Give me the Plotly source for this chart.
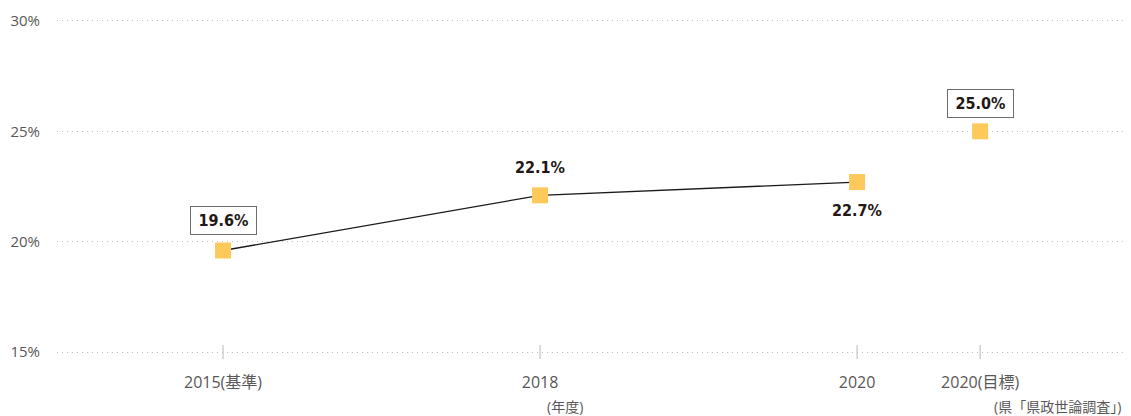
import plotly.graph_objects as go

# ---- data ----
categories = ["2015(基準)", "2018", "2020", "2020(目標)"]
values = [19.6, 22.1, 22.7, 25.0]
label_texts = ["19.6%", "22.1%", "22.7%", "25.0%"]
y_ticks = [15, 20, 25, 30]
y_tick_labels = ["15%", "20%", "25%", "30%"]

# ---- layout positions (category -> x coordinate) ----
cat_pos = {"2015(基準)": 0, "2018": 1, "2020": 2, "2020(目標)": 2.388}
xs = [cat_pos[c] for c in categories]

marker_color = "#FDC95B"
text_color = "#231815"
axis_text = "#595757"
grid_color = "#BFBFBF"

fig = go.Figure()

# actual results line (first three points)
fig.add_trace(go.Scatter(
    x=xs[:3], y=values[:3], mode="lines",
    line=dict(color="#1a1a1a", width=1.3),
    hoverinfo="skip", showlegend=False,
))

# tick marks crossing baseline
fig.add_trace(go.Scatter(
    x=xs, y=[y_ticks[0]] * len(xs), mode="markers",
    marker=dict(symbol="line-ns", size=10, line=dict(color="#C4C4C4", width=1.2)),
    cliponaxis=False, hoverinfo="skip", showlegend=False,
))

# markers
fig.add_trace(go.Scatter(
    x=xs, y=values, mode="markers",
    marker=dict(symbol="square", size=16, color=marker_color, line=dict(width=0)),
    cliponaxis=False, hoverinfo="skip", showlegend=False,
))

label_font = dict(family="DejaVu Sans Condensed", size=16, color=text_color,
                  weight="bold")
boxed = [True, False, False, True]
shifts = [30, 28, -28, 28]
for x, y, t, b, s in zip(xs, values, label_texts, boxed, shifts):
    ann = dict(x=x, y=y, xref="x", yref="y", text=t, showarrow=False,
               yshift=s, font=label_font)
    if b:
        ann.update(bordercolor="#6F6B6B", borderwidth=1, borderpad=4, bgcolor="white",
                   width=57, height=19)
    fig.add_annotation(**ann)

tick_family = "Open Sans, Noto Sans CJK JP"
note_font = dict(family=tick_family, size=14, color=axis_text)
fig.add_annotation(x=cat_pos["2018"], y=0, xref="x", yref="paper", text="(年度)",
                   showarrow=False, xshift=25, yshift=-52, yanchor="middle", font=note_font)
fig.add_annotation(x=1, y=0, xref="paper", yref="paper",
                   text="(県「県政世論調査」)",
                   showarrow=False, xanchor="right", yanchor="middle", xshift=-2,
                   yshift=-52, font=note_font)

fig.update_layout(
    width=1123, height=408,
    margin=dict(l=49, r=6, t=11, b=62),
    plot_bgcolor="white", paper_bgcolor="white",
    font=dict(family=tick_family, size=15, color=axis_text),
    xaxis=dict(
        range=[-0.5237, 2.845], automargin=False,
        tickvals=xs, ticktext=categories,
        showgrid=False, zeroline=False, showline=False,
        ticks="", ticklabelstandoff=17,
        tickfont=dict(family=tick_family, size=16, color=axis_text),
    ),
    yaxis=dict(
        range=[14.91, 30.09], automargin=False,
        tickvals=y_ticks, ticktext=y_tick_labels,
        showgrid=True, gridcolor=grid_color, griddash="1px,4px", gridwidth=1,
        zeroline=False, showline=False, ticks="", ticklabelstandoff=16,
        tickfont=dict(family=tick_family, size=15, color=axis_text),
    ),
)

fig.write_html("out.html")
